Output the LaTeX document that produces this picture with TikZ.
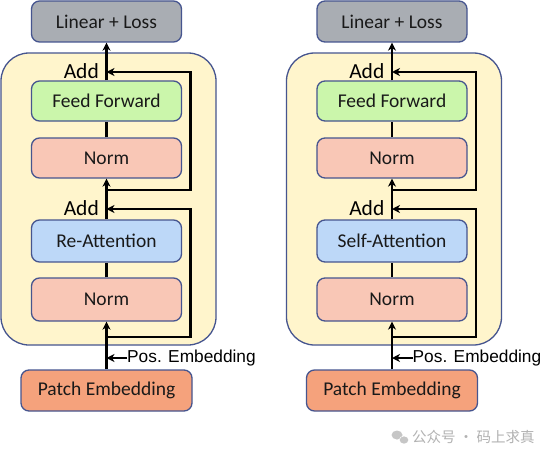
\documentclass[tikz,border=0pt]{standalone}
\usepackage{fontspec}
\setmainfont{Carlito}
\newfontfamily\arialf{Liberation Sans}
\newfontfamily\cjk{Noto Sans CJK SC}
\usetikzlibrary{arrows.meta,calc}
\definecolor{bordc}{HTML}{46558F}
\definecolor{greyc}{HTML}{A9ADB3}
\definecolor{contc}{HTML}{FFF5CC}
\definecolor{greenc}{HTML}{CBF6AB}
\definecolor{normc}{HTML}{F9C7B6}
\definecolor{bluec}{HTML}{BDD8F8}
\definecolor{patchc}{HTML}{F5A27C}
\tikzset{
  blk/.style={draw=bordc, line width=1.3pt, rounded corners=8pt, minimum width=150pt,
    minimum height=41pt, inner sep=0pt, font=\fontsize{19.5}{21}\selectfont, text=black!90},
  container/.style={draw=bordc, line width=1.3pt, fill=contc, rounded corners=28pt},
  conn/.style={line width=2.2pt, black},
  arr/.style={conn, -{Stealth[length=8pt,width=8pt,inset=2.5pt]}},
  addlbl/.style={font=\fontsize{21.5}{23}\selectfont, inner sep=0pt, anchor=east},
  poslbl/.style={font=\arialf\fontsize{17.3}{19}\selectfont, inner sep=0pt, anchor=west}
}
\begin{document}
\begin{tikzpicture}[x=1pt,y=-1pt]
\useasboundingbox (0,0) rectangle (553,460);
\fill[white] (0,0) rectangle (553,460);
\foreach \o/\p/\att in {0/L/Re-Attention,285.5/R/Self-Attention}{
\begin{scope}[xshift=\o pt]
  \draw[container] (1,53) rectangle (216,345);
  \node[blk, fill=greyc] (\p ll) at (106.5,21.5) {Linear + Loss};
  \node[blk, fill=greenc, minimum height=40pt] (\p ff) at (106.5,101) {Feed Forward};
  \node[blk, fill=normc, minimum height=40pt] (\p n1) at (106.5,158) {Norm};
  \node[blk, fill=bluec, minimum height=42pt] (\p att) at (106.5,241) {\att};
  \node[blk, fill=normc, minimum height=43pt] (\p n2) at (106.5,299.5) {Norm};
  \node[blk, fill=patchc, minimum width=171pt] (\p patch) at (106.5,390.5) {Patch Embedding};
  \node[addlbl] (\p add1) at (99,71) {Add};
  \node[addlbl] (\p add2) at (99,208) {Add};
  \node[poslbl] (\p pos) at (127,358) {Pos. Embedding};
  \coordinate (\p s1) at (106.5,190);
  \coordinate (\p t1) at (190.5,190);
  \coordinate (\p u1) at (190.5,72);
  \coordinate (\p a1) at (106.5,72);
  \coordinate (\p s2) at (106.5,337);
  \coordinate (\p t2) at (190.5,337);
  \coordinate (\p u2) at (190.5,209);
  \coordinate (\p a2) at (106.5,209);
  \coordinate (\p p1) at (106.5,358);
  \draw[arr] (\p patch.north) -- (\p n2.south);
  \draw[conn] (\p n2.north) -- (\p att.south);
  \draw[arr] (\p att.north) -- (\p n1.south);
  \draw[conn] (\p n1.north) -- (\p ff.south);
  \draw[arr] (\p ff.north) -- (\p ll.south);
  \draw[arr] (\p s1) -- (\p t1) -- (\p u1) -- (\p a1);
  \draw[arr] (\p s2) -- (\p t2) -- (\p u2) -- (\p a2);
  \draw[arr] (\p pos.west) -- (\p p1);
\end{scope}
}
\fill[gray!45] (397,435) ellipse (5.5pt and 4.5pt);
\fill[white] (404,440) ellipse (5pt and 4.2pt);
\fill[gray!45] (404,440) ellipse (4.3pt and 3.6pt);
\node[font=\cjk\fontsize{14.5}{16}\selectfont, text=gray!60, anchor=west, inner sep=0pt] (wm) at (412,437) {公众号 · 码上求真};
\end{tikzpicture}
\end{document}
